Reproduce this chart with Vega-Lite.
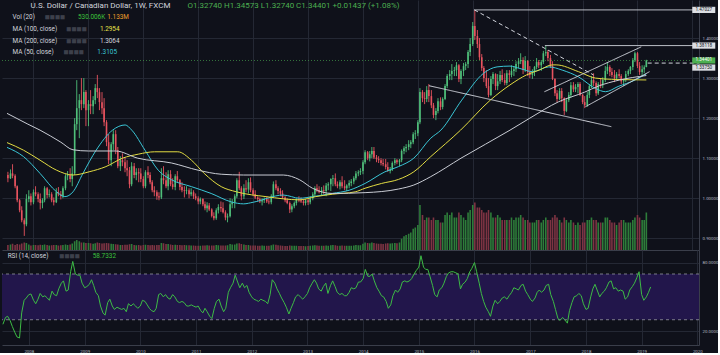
{
  "$schema": "https://vega.github.io/schema/vega-lite/v6.json",
  "background": "#0f111a",
  "padding": 0,
  "spacing": 0,
  "config": {
    "view": {"stroke": null},
    "font": "Roboto",
    "axis": {"labelFont": "Roboto", "labelFontSize": 4.4, "labelColor": "#b8bbc4", "domainColor": "#3a3e4a", "gridColor": "#242834", "ticks": false}
  },
  "datasets": {
    "k": [
      {"d":"2007-07-15","o":1.058,"h":1.066,"l":1.040,"c":1.050,"v":0.2,"r":26},
      {"d":"2007-08-01","o":1.050,"h":1.072,"l":1.048,"c":1.062,"v":0.22,"r":32},
      {"d":"2007-08-15","o":1.062,"h":1.085,"l":1.050,"c":1.056,"v":0.25,"r":33},
      {"d":"2007-09-01","o":1.056,"h":1.060,"l":1.025,"c":1.030,"v":0.2,"r":29},
      {"d":"2007-09-15","o":1.030,"h":1.032,"l":0.990,"c":0.995,"v":0.24,"r":24},
      {"d":"2007-10-01","o":0.995,"h":0.998,"l":0.965,"c":0.970,"v":0.22,"r":19},
      {"d":"2007-10-15","o":0.970,"h":0.980,"l":0.940,"c":0.945,"v":0.26,"r":15},
      {"d":"2007-11-01","o":0.945,"h":0.950,"l":0.906,"c":0.935,"v":0.3,"r":14},
      {"d":"2007-11-15","o":0.935,"h":1.010,"l":0.930,"c":0.998,"v":0.28,"r":36},
      {"d":"2007-12-01","o":0.998,"h":1.020,"l":0.990,"c":1.005,"v":0.22,"r":47},
      {"d":"2007-12-15","o":1.005,"h":1.012,"l":0.982,"c":0.990,"v":0.18,"r":49},
      {"d":"2008-01-01","o":0.990,"h":1.022,"l":0.985,"c":1.015,"v":0.2,"r":52},
      {"d":"2008-01-15","o":1.015,"h":1.030,"l":1.005,"c":1.010,"v":0.2,"r":52.5},
      {"d":"2008-02-01","o":1.010,"h":1.015,"l":0.990,"c":0.998,"v":0.19,"r":47},
      {"d":"2008-02-15","o":0.998,"h":1.012,"l":0.972,"c":0.988,"v":0.21,"r":44},
      {"d":"2008-03-01","o":0.988,"h":1.000,"l":0.975,"c":0.995,"v":0.2,"r":48},
      {"d":"2008-03-15","o":0.995,"h":1.030,"l":0.990,"c":1.025,"v":0.22,"r":53},
      {"d":"2008-04-01","o":1.025,"h":1.028,"l":1.000,"c":1.008,"v":0.2,"r":50},
      {"d":"2008-04-15","o":1.008,"h":1.022,"l":1.002,"c":1.010,"v":0.18,"r":51},
      {"d":"2008-05-01","o":1.010,"h":1.015,"l":0.990,"c":0.995,"v":0.19,"r":49},
      {"d":"2008-05-15","o":0.995,"h":1.002,"l":0.982,"c":0.990,"v":0.2,"r":47},
      {"d":"2008-06-01","o":0.990,"h":1.025,"l":0.988,"c":1.015,"v":0.2,"r":55},
      {"d":"2008-06-15","o":1.015,"h":1.028,"l":1.005,"c":1.010,"v":0.18,"r":52},
      {"d":"2008-07-01","o":1.010,"h":1.018,"l":0.997,"c":1.005,"v":0.19,"r":51},
      {"d":"2008-07-15","o":1.005,"h":1.030,"l":1.000,"c":1.025,"v":0.2,"r":57},
      {"d":"2008-08-01","o":1.025,"h":1.060,"l":1.020,"c":1.055,"v":0.22,"r":62},
      {"d":"2008-08-15","o":1.055,"h":1.068,"l":1.045,"c":1.058,"v":0.2,"r":64},
      {"d":"2008-09-01","o":1.058,"h":1.075,"l":1.040,"c":1.048,"v":0.22,"r":55},
      {"d":"2008-09-15","o":1.048,"h":1.080,"l":1.030,"c":1.062,"v":0.26,"r":56},
      {"d":"2008-10-01","o":1.062,"h":1.200,"l":1.058,"c":1.185,"v":0.35,"r":72},
      {"d":"2008-10-15","o":1.185,"h":1.295,"l":1.170,"c":1.225,"v":0.4,"r":81},
      {"d":"2008-11-01","o":1.225,"h":1.260,"l":1.150,"c":1.245,"v":0.35,"r":70},
      {"d":"2008-11-15","o":1.245,"h":1.300,"l":1.220,"c":1.235,"v":0.3,"r":69},
      {"d":"2008-12-01","o":1.235,"h":1.300,"l":1.225,"c":1.265,"v":0.3,"r":69},
      {"d":"2008-12-15","o":1.265,"h":1.270,"l":1.180,"c":1.220,"v":0.28,"r":62},
      {"d":"2009-01-01","o":1.220,"h":1.245,"l":1.180,"c":1.235,"v":0.28,"r":58},
      {"d":"2009-01-15","o":1.235,"h":1.270,"l":1.210,"c":1.230,"v":0.27,"r":59},
      {"d":"2009-02-01","o":1.230,"h":1.255,"l":1.210,"c":1.245,"v":0.25,"r":61},
      {"d":"2009-02-15","o":1.245,"h":1.285,"l":1.235,"c":1.275,"v":0.27,"r":65},
      {"d":"2009-03-01","o":1.275,"h":1.308,"l":1.250,"c":1.265,"v":0.3,"r":60},
      {"d":"2009-03-15","o":1.265,"h":1.275,"l":1.220,"c":1.240,"v":0.28,"r":54},
      {"d":"2009-04-01","o":1.240,"h":1.265,"l":1.210,"c":1.225,"v":0.26,"r":51},
      {"d":"2009-04-15","o":1.225,"h":1.250,"l":1.180,"c":1.190,"v":0.27,"r":42},
      {"d":"2009-05-01","o":1.190,"h":1.195,"l":1.130,"c":1.140,"v":0.28,"r":36},
      {"d":"2009-05-15","o":1.140,"h":1.160,"l":1.085,"c":1.095,"v":0.27,"r":34},
      {"d":"2009-06-01","o":1.095,"h":1.140,"l":1.080,"c":1.135,"v":0.25,"r":45},
      {"d":"2009-06-15","o":1.135,"h":1.170,"l":1.120,"c":1.160,"v":0.24,"r":48},
      {"d":"2009-07-01","o":1.160,"h":1.170,"l":1.110,"c":1.120,"v":0.23,"r":42},
      {"d":"2009-07-15","o":1.120,"h":1.128,"l":1.075,"c":1.080,"v":0.22,"r":39},
      {"d":"2009-08-01","o":1.080,"h":1.105,"l":1.068,"c":1.095,"v":0.2,"r":41},
      {"d":"2009-08-15","o":1.095,"h":1.112,"l":1.080,"c":1.090,"v":0.2,"r":40},
      {"d":"2009-09-01","o":1.090,"h":1.102,"l":1.065,"c":1.075,"v":0.21,"r":39},
      {"d":"2009-09-15","o":1.075,"h":1.095,"l":1.055,"c":1.070,"v":0.21,"r":40},
      {"d":"2009-10-01","o":1.070,"h":1.078,"l":1.025,"c":1.035,"v":0.23,"r":37},
      {"d":"2009-10-15","o":1.035,"h":1.090,"l":1.030,"c":1.080,"v":0.24,"r":44},
      {"d":"2009-11-01","o":1.080,"h":1.088,"l":1.050,"c":1.058,"v":0.2,"r":42},
      {"d":"2009-11-15","o":1.058,"h":1.075,"l":1.045,"c":1.065,"v":0.19,"r":44},
      {"d":"2009-12-01","o":1.065,"h":1.075,"l":1.040,"c":1.062,"v":0.2,"r":42},
      {"d":"2009-12-15","o":1.062,"h":1.075,"l":1.040,"c":1.048,"v":0.18,"r":40},
      {"d":"2010-01-01","o":1.048,"h":1.055,"l":1.025,"c":1.030,"v":0.2,"r":42},
      {"d":"2010-01-15","o":1.030,"h":1.070,"l":1.025,"c":1.065,"v":0.21,"r":47},
      {"d":"2010-02-01","o":1.065,"h":1.080,"l":1.050,"c":1.058,"v":0.2,"r":46},
      {"d":"2010-02-15","o":1.058,"h":1.065,"l":1.035,"c":1.040,"v":0.19,"r":43},
      {"d":"2010-03-01","o":1.040,"h":1.045,"l":1.015,"c":1.020,"v":0.2,"r":40},
      {"d":"2010-03-15","o":1.020,"h":1.030,"l":1.005,"c":1.015,"v":0.19,"r":38},
      {"d":"2010-04-01","o":1.015,"h":1.020,"l":0.996,"c":1.005,"v":0.2,"r":37},
      {"d":"2010-04-15","o":1.005,"h":1.015,"l":0.995,"c":1.002,"v":0.2,"r":40},
      {"d":"2010-05-01","o":1.002,"h":1.075,"l":0.998,"c":1.050,"v":0.28,"r":52},
      {"d":"2010-05-15","o":1.050,"h":1.080,"l":1.035,"c":1.045,"v":0.27,"r":53},
      {"d":"2010-06-01","o":1.045,"h":1.065,"l":1.025,"c":1.030,"v":0.24,"r":50},
      {"d":"2010-06-15","o":1.030,"h":1.070,"l":1.020,"c":1.060,"v":0.24,"r":52},
      {"d":"2010-07-01","o":1.060,"h":1.070,"l":1.030,"c":1.035,"v":0.22,"r":49},
      {"d":"2010-07-15","o":1.035,"h":1.050,"l":1.022,"c":1.028,"v":0.2,"r":48},
      {"d":"2010-08-01","o":1.028,"h":1.060,"l":1.020,"c":1.055,"v":0.21,"r":52},
      {"d":"2010-08-15","o":1.055,"h":1.068,"l":1.040,"c":1.045,"v":0.2,"r":50},
      {"d":"2010-09-01","o":1.045,"h":1.048,"l":1.020,"c":1.028,"v":0.2,"r":46},
      {"d":"2010-09-15","o":1.028,"h":1.040,"l":1.015,"c":1.020,"v":0.19,"r":45},
      {"d":"2010-10-01","o":1.020,"h":1.030,"l":1.002,"c":1.018,"v":0.2,"r":46},
      {"d":"2010-10-15","o":1.018,"h":1.030,"l":1.010,"c":1.020,"v":0.19,"r":45},
      {"d":"2010-11-01","o":1.020,"h":1.025,"l":1.000,"c":1.010,"v":0.19,"r":42},
      {"d":"2010-11-15","o":1.010,"h":1.025,"l":1.005,"c":1.015,"v":0.18,"r":42},
      {"d":"2010-12-01","o":1.015,"h":1.020,"l":0.998,"c":1.005,"v":0.18,"r":43},
      {"d":"2010-12-15","o":1.005,"h":1.012,"l":0.995,"c":1.000,"v":0.17,"r":42},
      {"d":"2011-01-01","o":1.000,"h":1.005,"l":0.985,"c":0.992,"v":0.17,"r":41},
      {"d":"2011-01-15","o":0.992,"h":1.002,"l":0.985,"c":0.998,"v":0.17,"r":42},
      {"d":"2011-02-01","o":0.998,"h":1.000,"l":0.980,"c":0.985,"v":0.18,"r":38},
      {"d":"2011-02-15","o":0.985,"h":0.992,"l":0.970,"c":0.975,"v":0.18,"r":36},
      {"d":"2011-03-01","o":0.975,"h":0.990,"l":0.965,"c":0.982,"v":0.19,"r":40},
      {"d":"2011-03-15","o":0.982,"h":0.988,"l":0.968,"c":0.972,"v":0.18,"r":37},
      {"d":"2011-04-01","o":0.972,"h":0.975,"l":0.952,"c":0.956,"v":0.18,"r":33},
      {"d":"2011-04-15","o":0.956,"h":0.965,"l":0.945,"c":0.950,"v":0.18,"r":31},
      {"d":"2011-05-01","o":0.950,"h":0.975,"l":0.946,"c":0.970,"v":0.2,"r":40},
      {"d":"2011-05-15","o":0.970,"h":0.985,"l":0.962,"c":0.978,"v":0.19,"r":46},
      {"d":"2011-06-01","o":0.978,"h":0.992,"l":0.966,"c":0.975,"v":0.18,"r":48},
      {"d":"2011-06-15","o":0.975,"h":0.990,"l":0.962,"c":0.965,"v":0.18,"r":42},
      {"d":"2011-07-01","o":0.965,"h":0.970,"l":0.945,"c":0.952,"v":0.18,"r":37},
      {"d":"2011-07-15","o":0.952,"h":0.962,"l":0.940,"c":0.955,"v":0.19,"r":40},
      {"d":"2011-08-01","o":0.955,"h":1.000,"l":0.952,"c":0.985,"v":0.24,"r":54},
      {"d":"2011-08-15","o":0.985,"h":0.998,"l":0.975,"c":0.990,"v":0.22,"r":58},
      {"d":"2011-09-01","o":0.990,"h":1.010,"l":0.975,"c":1.005,"v":0.22,"r":62},
      {"d":"2011-09-15","o":1.005,"h":1.050,"l":1.000,"c":1.045,"v":0.26,"r":69},
      {"d":"2011-10-01","o":1.045,"h":1.066,"l":1.020,"c":1.025,"v":0.27,"r":63},
      {"d":"2011-10-15","o":1.025,"h":1.030,"l":0.995,"c":1.005,"v":0.24,"r":58},
      {"d":"2011-11-01","o":1.005,"h":1.035,"l":0.998,"c":1.025,"v":0.22,"r":62},
      {"d":"2011-11-15","o":1.025,"h":1.045,"l":1.015,"c":1.022,"v":0.2,"r":58},
      {"d":"2011-12-01","o":1.022,"h":1.050,"l":1.012,"c":1.040,"v":0.2,"r":60},
      {"d":"2011-12-15","o":1.040,"h":1.052,"l":1.015,"c":1.020,"v":0.18,"r":54},
      {"d":"2012-01-01","o":1.020,"h":1.025,"l":1.005,"c":1.010,"v":0.18,"r":50},
      {"d":"2012-01-15","o":1.010,"h":1.020,"l":0.998,"c":1.002,"v":0.18,"r":48},
      {"d":"2012-02-01","o":1.002,"h":1.005,"l":0.992,"c":0.998,"v":0.17,"r":47},
      {"d":"2012-02-15","o":0.998,"h":1.002,"l":0.988,"c":0.992,"v":0.17,"r":46},
      {"d":"2012-03-01","o":0.992,"h":1.000,"l":0.982,"c":0.995,"v":0.18,"r":48},
      {"d":"2012-03-15","o":0.995,"h":1.002,"l":0.988,"c":0.998,"v":0.17,"r":47},
      {"d":"2012-04-01","o":0.998,"h":1.005,"l":0.988,"c":0.992,"v":0.17,"r":46},
      {"d":"2012-04-15","o":0.992,"h":1.000,"l":0.985,"c":0.990,"v":0.17,"r":44},
      {"d":"2012-05-01","o":0.990,"h":1.010,"l":0.985,"c":1.005,"v":0.19,"r":52},
      {"d":"2012-05-15","o":1.005,"h":1.042,"l":1.002,"c":1.035,"v":0.22,"r":65},
      {"d":"2012-06-01","o":1.035,"h":1.045,"l":1.020,"c":1.025,"v":0.21,"r":62},
      {"d":"2012-06-15","o":1.025,"h":1.030,"l":1.010,"c":1.018,"v":0.19,"r":57},
      {"d":"2012-07-01","o":1.018,"h":1.025,"l":1.005,"c":1.012,"v":0.18,"r":53},
      {"d":"2012-07-15","o":1.012,"h":1.020,"l":0.998,"c":1.002,"v":0.17,"r":49},
      {"d":"2012-08-01","o":1.002,"h":1.005,"l":0.990,"c":0.995,"v":0.16,"r":45},
      {"d":"2012-08-15","o":0.995,"h":1.000,"l":0.985,"c":0.988,"v":0.16,"r":41},
      {"d":"2012-09-01","o":0.988,"h":0.992,"l":0.963,"c":0.972,"v":0.18,"r":35},
      {"d":"2012-09-15","o":0.972,"h":0.985,"l":0.965,"c":0.980,"v":0.17,"r":40},
      {"d":"2012-10-01","o":0.980,"h":0.992,"l":0.975,"c":0.988,"v":0.17,"r":45},
      {"d":"2012-10-15","o":0.988,"h":1.000,"l":0.982,"c":0.998,"v":0.17,"r":50},
      {"d":"2012-11-01","o":0.998,"h":1.005,"l":0.990,"c":0.995,"v":0.16,"r":52},
      {"d":"2012-11-15","o":0.995,"h":1.002,"l":0.988,"c":0.992,"v":0.16,"r":50},
      {"d":"2012-12-01","o":0.992,"h":0.998,"l":0.982,"c":0.988,"v":0.16,"r":48},
      {"d":"2012-12-15","o":0.988,"h":0.998,"l":0.982,"c":0.995,"v":0.15,"r":50},
      {"d":"2013-01-01","o":0.995,"h":1.000,"l":0.983,"c":0.990,"v":0.16,"r":53},
      {"d":"2013-01-15","o":0.990,"h":1.005,"l":0.985,"c":1.000,"v":0.17,"r":58},
      {"d":"2013-02-01","o":1.000,"h":1.015,"l":0.995,"c":1.010,"v":0.18,"r":62},
      {"d":"2013-02-15","o":1.010,"h":1.030,"l":1.005,"c":1.025,"v":0.19,"r":65},
      {"d":"2013-03-01","o":1.025,"h":1.035,"l":1.015,"c":1.020,"v":0.18,"r":62},
      {"d":"2013-03-15","o":1.020,"h":1.030,"l":1.012,"c":1.015,"v":0.17,"r":57},
      {"d":"2013-04-01","o":1.015,"h":1.028,"l":1.008,"c":1.020,"v":0.17,"r":55},
      {"d":"2013-04-15","o":1.020,"h":1.032,"l":1.010,"c":1.018,"v":0.17,"r":59},
      {"d":"2013-05-01","o":1.018,"h":1.038,"l":1.005,"c":1.032,"v":0.18,"r":62},
      {"d":"2013-05-15","o":1.032,"h":1.040,"l":1.020,"c":1.035,"v":0.17,"r":53},
      {"d":"2013-06-01","o":1.035,"h":1.050,"l":1.018,"c":1.048,"v":0.19,"r":60},
      {"d":"2013-06-15","o":1.048,"h":1.058,"l":1.030,"c":1.050,"v":0.2,"r":64},
      {"d":"2013-07-01","o":1.050,"h":1.062,"l":1.030,"c":1.035,"v":0.19,"r":59},
      {"d":"2013-07-15","o":1.035,"h":1.042,"l":1.025,"c":1.030,"v":0.17,"r":54},
      {"d":"2013-08-01","o":1.030,"h":1.045,"l":1.022,"c":1.040,"v":0.17,"r":52},
      {"d":"2013-08-15","o":1.040,"h":1.055,"l":1.025,"c":1.030,"v":0.18,"r":53},
      {"d":"2013-09-01","o":1.030,"h":1.045,"l":1.020,"c":1.025,"v":0.17,"r":51},
      {"d":"2013-09-15","o":1.025,"h":1.035,"l":1.018,"c":1.032,"v":0.17,"r":51},
      {"d":"2013-10-01","o":1.032,"h":1.045,"l":1.025,"c":1.038,"v":0.17,"r":54},
      {"d":"2013-10-15","o":1.038,"h":1.048,"l":1.030,"c":1.042,"v":0.17,"r":58},
      {"d":"2013-11-01","o":1.042,"h":1.055,"l":1.035,"c":1.050,"v":0.18,"r":57},
      {"d":"2013-11-15","o":1.050,"h":1.068,"l":1.045,"c":1.062,"v":0.2,"r":58},
      {"d":"2013-12-01","o":1.062,"h":1.070,"l":1.055,"c":1.065,"v":0.19,"r":63},
      {"d":"2013-12-15","o":1.065,"h":1.075,"l":1.058,"c":1.068,"v":0.19,"r":63},
      {"d":"2014-01-01","o":1.068,"h":1.095,"l":1.060,"c":1.090,"v":0.25,"r":66},
      {"d":"2014-01-15","o":1.090,"h":1.120,"l":1.085,"c":1.115,"v":0.3,"r":74},
      {"d":"2014-02-01","o":1.115,"h":1.118,"l":1.095,"c":1.100,"v":0.28,"r":68},
      {"d":"2014-02-15","o":1.100,"h":1.118,"l":1.092,"c":1.110,"v":0.27,"r":68},
      {"d":"2014-03-01","o":1.110,"h":1.128,"l":1.100,"c":1.118,"v":0.3,"r":70},
      {"d":"2014-03-15","o":1.118,"h":1.128,"l":1.098,"c":1.102,"v":0.28,"r":64},
      {"d":"2014-04-01","o":1.102,"h":1.108,"l":1.090,"c":1.098,"v":0.26,"r":58},
      {"d":"2014-04-15","o":1.098,"h":1.105,"l":1.088,"c":1.095,"v":0.25,"r":55},
      {"d":"2014-05-01","o":1.095,"h":1.100,"l":1.082,"c":1.088,"v":0.25,"r":51},
      {"d":"2014-05-15","o":1.088,"h":1.098,"l":1.080,"c":1.085,"v":0.24,"r":50},
      {"d":"2014-06-01","o":1.085,"h":1.098,"l":1.072,"c":1.078,"v":0.26,"r":46},
      {"d":"2014-06-15","o":1.078,"h":1.090,"l":1.066,"c":1.068,"v":0.27,"r":40},
      {"d":"2014-07-01","o":1.068,"h":1.078,"l":1.062,"c":1.072,"v":0.26,"r":43},
      {"d":"2014-07-15","o":1.072,"h":1.092,"l":1.068,"c":1.088,"v":0.27,"r":51},
      {"d":"2014-08-01","o":1.088,"h":1.100,"l":1.082,"c":1.095,"v":0.28,"r":56},
      {"d":"2014-08-15","o":1.095,"h":1.098,"l":1.085,"c":1.090,"v":0.27,"r":54},
      {"d":"2014-09-01","o":1.090,"h":1.098,"l":1.080,"c":1.095,"v":0.3,"r":57},
      {"d":"2014-09-15","o":1.095,"h":1.122,"l":1.090,"c":1.118,"v":0.45,"r":63},
      {"d":"2014-10-01","o":1.118,"h":1.130,"l":1.110,"c":1.125,"v":0.55,"r":64},
      {"d":"2014-10-15","o":1.125,"h":1.135,"l":1.115,"c":1.128,"v":0.6,"r":63},
      {"d":"2014-11-01","o":1.128,"h":1.145,"l":1.120,"c":1.135,"v":0.65,"r":64},
      {"d":"2014-11-15","o":1.135,"h":1.145,"l":1.125,"c":1.140,"v":0.7,"r":66},
      {"d":"2014-12-01","o":1.140,"h":1.165,"l":1.135,"c":1.160,"v":0.85,"r":70},
      {"d":"2014-12-15","o":1.160,"h":1.170,"l":1.148,"c":1.162,"v":0.9,"r":73},
      {"d":"2015-01-01","o":1.162,"h":1.195,"l":1.155,"c":1.190,"v":1.0,"r":76},
      {"d":"2015-01-15","o":1.190,"h":1.275,"l":1.185,"c":1.265,"v":1.8,"r":86},
      {"d":"2015-02-01","o":1.265,"h":1.270,"l":1.240,"c":1.250,"v":1.4,"r":76},
      {"d":"2015-02-15","o":1.250,"h":1.265,"l":1.235,"c":1.248,"v":1.2,"r":74},
      {"d":"2015-03-01","o":1.248,"h":1.280,"l":1.240,"c":1.270,"v":1.3,"r":74},
      {"d":"2015-03-15","o":1.270,"h":1.285,"l":1.240,"c":1.255,"v":1.3,"r":68},
      {"d":"2015-04-01","o":1.255,"h":1.270,"l":1.225,"c":1.232,"v":1.2,"r":60},
      {"d":"2015-04-15","o":1.232,"h":1.238,"l":1.200,"c":1.208,"v":1.3,"r":52},
      {"d":"2015-05-01","o":1.208,"h":1.225,"l":1.195,"c":1.218,"v":1.2,"r":50},
      {"d":"2015-05-15","o":1.218,"h":1.250,"l":1.212,"c":1.242,"v":1.2,"r":56},
      {"d":"2015-06-01","o":1.242,"h":1.252,"l":1.220,"c":1.228,"v":1.1,"r":58},
      {"d":"2015-06-15","o":1.228,"h":1.252,"l":1.222,"c":1.248,"v":1.1,"r":62},
      {"d":"2015-07-01","o":1.248,"h":1.285,"l":1.245,"c":1.280,"v":1.4,"r":68},
      {"d":"2015-07-15","o":1.280,"h":1.310,"l":1.275,"c":1.305,"v":1.5,"r":71},
      {"d":"2015-08-01","o":1.305,"h":1.320,"l":1.295,"c":1.310,"v":1.4,"r":72},
      {"d":"2015-08-15","o":1.310,"h":1.335,"l":1.295,"c":1.318,"v":1.5,"r":72},
      {"d":"2015-09-01","o":1.318,"h":1.328,"l":1.305,"c":1.320,"v":1.3,"r":71},
      {"d":"2015-09-15","o":1.320,"h":1.340,"l":1.305,"c":1.332,"v":1.3,"r":70},
      {"d":"2015-10-01","o":1.332,"h":1.335,"l":1.290,"c":1.298,"v":1.5,"r":57},
      {"d":"2015-10-15","o":1.298,"h":1.322,"l":1.285,"c":1.318,"v":1.4,"r":61},
      {"d":"2015-11-01","o":1.318,"h":1.338,"l":1.305,"c":1.330,"v":1.3,"r":63},
      {"d":"2015-11-15","o":1.330,"h":1.340,"l":1.320,"c":1.335,"v":1.2,"r":66},
      {"d":"2015-12-01","o":1.335,"h":1.370,"l":1.325,"c":1.365,"v":1.5,"r":72},
      {"d":"2015-12-15","o":1.365,"h":1.400,"l":1.355,"c":1.385,"v":1.6,"r":75},
      {"d":"2016-01-01","o":1.385,"h":1.440,"l":1.380,"c":1.430,"v":1.8,"r":80},
      {"d":"2016-01-15","o":1.430,"h":1.470,"l":1.395,"c":1.405,"v":1.9,"r":72},
      {"d":"2016-02-01","o":1.405,"h":1.420,"l":1.375,"c":1.385,"v":1.7,"r":62},
      {"d":"2016-02-15","o":1.385,"h":1.400,"l":1.345,"c":1.352,"v":1.7,"r":53},
      {"d":"2016-03-01","o":1.352,"h":1.360,"l":1.318,"c":1.325,"v":1.6,"r":46},
      {"d":"2016-03-15","o":1.325,"h":1.330,"l":1.290,"c":1.300,"v":1.5,"r":41},
      {"d":"2016-04-01","o":1.300,"h":1.320,"l":1.275,"c":1.280,"v":1.5,"r":37},
      {"d":"2016-04-15","o":1.280,"h":1.300,"l":1.252,"c":1.258,"v":1.6,"r":33},
      {"d":"2016-05-01","o":1.258,"h":1.305,"l":1.255,"c":1.298,"v":1.5,"r":42},
      {"d":"2016-05-15","o":1.298,"h":1.315,"l":1.285,"c":1.310,"v":1.3,"r":47},
      {"d":"2016-06-01","o":1.310,"h":1.312,"l":1.270,"c":1.280,"v":1.3,"r":44},
      {"d":"2016-06-15","o":1.280,"h":1.310,"l":1.270,"c":1.292,"v":1.4,"r":46},
      {"d":"2016-07-01","o":1.292,"h":1.318,"l":1.285,"c":1.308,"v":1.3,"r":49},
      {"d":"2016-07-15","o":1.308,"h":1.322,"l":1.290,"c":1.295,"v":1.2,"r":50},
      {"d":"2016-08-01","o":1.295,"h":1.312,"l":1.282,"c":1.288,"v":1.2,"r":48},
      {"d":"2016-08-15","o":1.288,"h":1.320,"l":1.282,"c":1.312,"v":1.2,"r":51},
      {"d":"2016-09-01","o":1.312,"h":1.320,"l":1.290,"c":1.308,"v":1.2,"r":54},
      {"d":"2016-09-15","o":1.308,"h":1.332,"l":1.302,"c":1.318,"v":1.3,"r":58},
      {"d":"2016-10-01","o":1.318,"h":1.330,"l":1.305,"c":1.322,"v":1.2,"r":57},
      {"d":"2016-10-15","o":1.322,"h":1.342,"l":1.315,"c":1.335,"v":1.3,"r":56},
      {"d":"2016-11-01","o":1.335,"h":1.350,"l":1.325,"c":1.342,"v":1.3,"r":60},
      {"d":"2016-11-15","o":1.342,"h":1.362,"l":1.335,"c":1.345,"v":1.4,"r":61},
      {"d":"2016-12-01","o":1.345,"h":1.352,"l":1.310,"c":1.320,"v":1.3,"r":55},
      {"d":"2016-12-15","o":1.320,"h":1.355,"l":1.315,"c":1.343,"v":1.2,"r":52},
      {"d":"2017-01-01","o":1.343,"h":1.345,"l":1.305,"c":1.315,"v":1.2,"r":48},
      {"d":"2017-01-15","o":1.315,"h":1.330,"l":1.300,"c":1.308,"v":1.1,"r":46},
      {"d":"2017-02-01","o":1.308,"h":1.322,"l":1.298,"c":1.315,"v":1.1,"r":49},
      {"d":"2017-02-15","o":1.315,"h":1.330,"l":1.305,"c":1.328,"v":1.1,"r":54},
      {"d":"2017-03-01","o":1.328,"h":1.350,"l":1.322,"c":1.340,"v":1.2,"r":56},
      {"d":"2017-03-15","o":1.340,"h":1.345,"l":1.325,"c":1.332,"v":1.2,"r":54},
      {"d":"2017-04-01","o":1.332,"h":1.345,"l":1.318,"c":1.340,"v":1.1,"r":56},
      {"d":"2017-04-15","o":1.340,"h":1.368,"l":1.335,"c":1.362,"v":1.2,"r":60},
      {"d":"2017-05-01","o":1.362,"h":1.380,"l":1.355,"c":1.365,"v":1.3,"r":61},
      {"d":"2017-05-15","o":1.365,"h":1.370,"l":1.342,"c":1.350,"v":1.2,"r":52},
      {"d":"2017-06-01","o":1.350,"h":1.358,"l":1.325,"c":1.330,"v":1.2,"r":46},
      {"d":"2017-06-15","o":1.330,"h":1.342,"l":1.295,"c":1.298,"v":1.3,"r":39},
      {"d":"2017-07-01","o":1.298,"h":1.300,"l":1.255,"c":1.262,"v":1.4,"r":31},
      {"d":"2017-07-15","o":1.262,"h":1.270,"l":1.240,"c":1.248,"v":1.3,"r":29.5},
      {"d":"2017-08-01","o":1.248,"h":1.275,"l":1.245,"c":1.268,"v":1.2,"r":32},
      {"d":"2017-08-15","o":1.268,"h":1.275,"l":1.240,"c":1.250,"v":1.1,"r":30},
      {"d":"2017-09-01","o":1.250,"h":1.252,"l":1.208,"c":1.218,"v":1.3,"r":27},
      {"d":"2017-09-15","o":1.218,"h":1.248,"l":1.215,"c":1.245,"v":1.2,"r":38},
      {"d":"2017-10-01","o":1.245,"h":1.265,"l":1.240,"c":1.258,"v":1.1,"r":45},
      {"d":"2017-10-15","o":1.258,"h":1.290,"l":1.250,"c":1.282,"v":1.2,"r":50},
      {"d":"2017-11-01","o":1.282,"h":1.290,"l":1.265,"c":1.272,"v":1.1,"r":51},
      {"d":"2017-11-15","o":1.272,"h":1.285,"l":1.265,"c":1.278,"v":1.0,"r":53},
      {"d":"2017-12-01","o":1.278,"h":1.290,"l":1.262,"c":1.285,"v":1.1,"r":51},
      {"d":"2017-12-15","o":1.285,"h":1.290,"l":1.255,"c":1.258,"v":1.0,"r":44},
      {"d":"2018-01-01","o":1.258,"h":1.260,"l":1.235,"c":1.240,"v":1.1,"r":39},
      {"d":"2018-01-15","o":1.240,"h":1.255,"l":1.225,"c":1.232,"v":1.1,"r":40},
      {"d":"2018-02-01","o":1.232,"h":1.265,"l":1.228,"c":1.258,"v":1.2,"r":50},
      {"d":"2018-02-15","o":1.258,"h":1.285,"l":1.250,"c":1.280,"v":1.2,"r":57},
      {"d":"2018-03-01","o":1.280,"h":1.305,"l":1.275,"c":1.295,"v":1.3,"r":61},
      {"d":"2018-03-15","o":1.295,"h":1.312,"l":1.280,"c":1.288,"v":1.2,"r":56},
      {"d":"2018-04-01","o":1.288,"h":1.292,"l":1.255,"c":1.262,"v":1.2,"r":50},
      {"d":"2018-04-15","o":1.262,"h":1.290,"l":1.258,"c":1.285,"v":1.1,"r":53},
      {"d":"2018-05-01","o":1.285,"h":1.300,"l":1.275,"c":1.282,"v":1.1,"r":55},
      {"d":"2018-05-15","o":1.282,"h":1.302,"l":1.275,"c":1.295,"v":1.1,"r":58},
      {"d":"2018-06-01","o":1.295,"h":1.330,"l":1.290,"c":1.318,"v":1.3,"r":63},
      {"d":"2018-06-15","o":1.318,"h":1.338,"l":1.310,"c":1.328,"v":1.3,"r":64},
      {"d":"2018-07-01","o":1.328,"h":1.332,"l":1.305,"c":1.315,"v":1.2,"r":57},
      {"d":"2018-07-15","o":1.315,"h":1.325,"l":1.302,"c":1.308,"v":1.1,"r":58},
      {"d":"2018-08-01","o":1.308,"h":1.320,"l":1.290,"c":1.300,"v":1.1,"r":55},
      {"d":"2018-08-15","o":1.300,"h":1.315,"l":1.295,"c":1.310,"v":1.0,"r":56},
      {"d":"2018-09-01","o":1.310,"h":1.322,"l":1.300,"c":1.305,"v":1.1,"r":55},
      {"d":"2018-09-15","o":1.305,"h":1.310,"l":1.285,"c":1.292,"v":1.2,"r":48},
      {"d":"2018-10-01","o":1.292,"h":1.298,"l":1.280,"c":1.295,"v":1.2,"r":50},
      {"d":"2018-10-15","o":1.295,"h":1.318,"l":1.290,"c":1.310,"v":1.1,"r":56},
      {"d":"2018-11-01","o":1.310,"h":1.322,"l":1.305,"c":1.318,"v":1.1,"r":59},
      {"d":"2018-11-15","o":1.318,"h":1.330,"l":1.310,"c":1.328,"v":1.1,"r":62},
      {"d":"2018-12-01","o":1.328,"h":1.350,"l":1.320,"c":1.345,"v":1.2,"r":67},
      {"d":"2018-12-15","o":1.345,"h":1.366,"l":1.340,"c":1.362,"v":1.3,"r":72},
      {"d":"2019-01-01","o":1.362,"h":1.365,"l":1.325,"c":1.330,"v":1.4,"r":52},
      {"d":"2019-01-15","o":1.330,"h":1.340,"l":1.308,"c":1.315,"v":1.3,"r":47},
      {"d":"2019-02-01","o":1.315,"h":1.332,"l":1.305,"c":1.322,"v":1.2,"r":50},
      {"d":"2019-02-15","o":1.322,"h":1.332,"l":1.312,"c":1.327,"v":1.2,"r":54},
      {"d":"2019-03-01","o":1.3274,"h":1.3457,"l":1.3274,"c":1.3440,"v":1.5,"r":58.7}
    ],
    "ma": [
      {"d":"2007-07-09","m":"a","v":1.127},{"d":"2007-10-27","m":"a","v":1.104},{"d":"2008-02-14","m":"a","v":1.062},{"d":"2008-06-03","m":"a","v":1.016},{"d":"2008-07-28","m":"a","v":1.004},{"d":"2008-09-20","m":"a","v":1.016},{"d":"2008-11-25","m":"a","v":1.062},{"d":"2009-02-21","m":"a","v":1.12},{"d":"2009-06-10","m":"a","v":1.17},{"d":"2009-09-02","m":"a","v":1.183},{"d":"2009-10-16","m":"a","v":1.17},{"d":"2010-01-12","m":"a","v":1.12},{"d":"2010-04-10","m":"a","v":1.07},{"d":"2010-07-08","m":"a","v":1.046},{"d":"2010-11-17","m":"a","v":1.029},{"d":"2011-03-28","m":"a","v":1.012},{"d":"2011-08-08","m":"a","v":0.991},{"d":"2011-10-30","m":"a","v":0.986},{"d":"2012-01-01","m":"a","v":0.99},{"d":"2012-07-20","m":"a","v":1.008},{"d":"2012-11-06","m":"a","v":1.0},{"d":"2013-01-30","m":"a","v":1.004},{"d":"2013-06-10","m":"a","v":1.012},{"d":"2013-10-01","m":"a","v":1.02},{"d":"2014-01-15","m":"a","v":1.037},{"d":"2014-05-27","m":"a","v":1.066},{"d":"2014-08-25","m":"a","v":1.079},{"d":"2014-12-05","m":"a","v":1.10},{"d":"2015-03-28","m":"a","v":1.15},{"d":"2015-06-03","m":"a","v":1.17},{"d":"2015-10-20","m":"a","v":1.245},{"d":"2016-03-13","m":"a","v":1.312},{"d":"2016-06-11","m":"a","v":1.328},{"d":"2016-09-05","m":"a","v":1.33},{"d":"2016-11-10","m":"a","v":1.324},{"d":"2017-02-02","m":"a","v":1.316},{"d":"2017-05-22","m":"a","v":1.328},{"d":"2017-08-18","m":"a","v":1.32},{"d":"2017-12-05","m":"a","v":1.303},{"d":"2018-03-28","m":"a","v":1.274},{"d":"2018-06-03","m":"a","v":1.266},{"d":"2018-08-25","m":"a","v":1.279},{"d":"2018-12-15","m":"a","v":1.295},{"d":"2019-03-01","m":"a","v":1.3105},
      {"d":"2007-07-09","m":"b","v":1.139},{"d":"2007-10-27","m":"b","v":1.12},{"d":"2008-02-14","m":"b","v":1.095},{"d":"2008-06-03","m":"b","v":1.07},{"d":"2008-09-20","m":"b","v":1.058},{"d":"2009-01-05","m":"b","v":1.066},{"d":"2009-04-27","m":"b","v":1.079},{"d":"2009-08-15","m":"b","v":1.10},{"d":"2009-11-28","m":"b","v":1.11},{"d":"2010-03-17","m":"b","v":1.116},{"d":"2010-08-18","m":"b","v":1.116},{"d":"2010-11-17","m":"b","v":1.095},{"d":"2011-02-10","m":"b","v":1.062},{"d":"2011-06-03","m":"b","v":1.029},{"d":"2011-09-13","m":"b","v":1.016},{"d":"2012-03-28","m":"b","v":1.004},{"d":"2012-11-06","m":"b","v":0.996},{"d":"2013-02-20","m":"b","v":1.004},{"d":"2013-06-10","m":"b","v":1.01},{"d":"2013-11-10","m":"b","v":1.016},{"d":"2014-01-15","m":"b","v":1.025},{"d":"2014-05-05","m":"b","v":1.037},{"d":"2014-08-25","m":"b","v":1.047},{"d":"2014-12-05","m":"b","v":1.066},{"d":"2015-03-28","m":"b","v":1.104},{"d":"2015-10-12","m":"b","v":1.17},{"d":"2016-04-27","m":"b","v":1.245},{"d":"2016-09-05","m":"b","v":1.283},{"d":"2016-12-24","m":"b","v":1.308},{"d":"2017-03-18","m":"b","v":1.32},{"d":"2017-06-14","m":"b","v":1.333},{"d":"2017-07-09","m":"b","v":1.333},{"d":"2017-12-05","m":"b","v":1.316},{"d":"2018-03-28","m":"b","v":1.30},{"d":"2018-07-13","m":"b","v":1.297},{"d":"2019-03-01","m":"b","v":1.2954},
      {"d":"2007-07-09","m":"w","v":1.212},{"d":"2007-11-25","m":"w","v":1.185},{"d":"2008-02-14","m":"w","v":1.17},{"d":"2008-07-01","m":"w","v":1.14},{"d":"2008-09-20","m":"w","v":1.121},{"d":"2009-01-01","m":"w","v":1.118},{"d":"2009-07-01","m":"w","v":1.118},{"d":"2009-11-25","m":"w","v":1.10},{"d":"2010-07-08","m":"w","v":1.088},{"d":"2011-01-01","m":"w","v":1.07},{"d":"2011-06-03","m":"w","v":1.06},{"d":"2011-10-30","m":"w","v":1.058},{"d":"2012-07-20","m":"w","v":1.058},{"d":"2012-11-06","m":"w","v":1.046},{"d":"2013-01-30","m":"w","v":1.025},{"d":"2013-06-10","m":"w","v":1.012},{"d":"2014-01-15","m":"w","v":1.014},{"d":"2014-08-25","m":"w","v":1.023},{"d":"2014-12-05","m":"w","v":1.033},{"d":"2015-03-28","m":"w","v":1.054},{"d":"2015-10-15","m":"w","v":1.10},{"d":"2016-09-05","m":"w","v":1.17},{"d":"2017-01-15","m":"w","v":1.20},{"d":"2017-07-26","m":"w","v":1.241},{"d":"2018-01-15","m":"w","v":1.265},{"d":"2018-04-16","m":"w","v":1.28},{"d":"2018-09-01","m":"w","v":1.295},{"d":"2019-03-01","m":"w","v":1.3064}
    ],
    "tl": [
      {"x1":"2016-01-12","x2":"2020-06-01","y1":1.47027,"y2":1.47027,"k":"s"},
      {"x1":"2016-01-12","x2":"2018-03-14","y1":1.4703,"y2":1.308,"k":"d"},
      {"x1":"2017-04-25","x2":"2020-06-01","y1":1.38118,"y2":1.38118,"k":"s"},
      {"x1":"2019-03-10","x2":"2020-06-01","y1":1.3375,"y2":1.3375,"k":"d"},
      {"x1":"2015-03-16","x2":"2018-07-11","y1":1.281,"y2":1.1787,"k":"s"},
      {"x1":"2017-04-22","x2":"2019-01-26","y1":1.266,"y2":1.378,"k":"s"},
      {"x1":"2018-01-20","x2":"2019-03-22","y1":1.2286,"y2":1.316,"k":"s"}
    ],
    "ttl": [
      {"d":"2007-12-13","p":1.4808,"t":"U.S. Dollar / Canadian Dollar, 1W, FXCM","k":"w"},
      {"d":"2010-10-21","p":1.4808,"t":"O1.32740 H1.34573 L1.32740 C1.34401 +0.01437 (+1.08%)","k":"g"}
    ],
    "leg": [
      {"d":"2007-08-15","p":1.4518,"t":"Vol (20)","k":"w"},
      {"d":"2008-03-14","p":1.4518,"t":"■■■■","k":"i"},
      {"d":"2008-10-23","p":1.4518,"t":"530.006K","k":"g"},
      {"d":"2009-05-06","p":1.4518,"t":"1.133M","k":"o"},
      {"d":"2007-08-15","p":1.4226,"t":"MA (100, close)","k":"w"},
      {"d":"2008-08-05","p":1.4226,"t":"■■■■","k":"i"},
      {"d":"2009-03-18","p":1.4226,"t":"1.2954","k":"y"},
      {"d":"2007-08-15","p":1.3934,"t":"MA (200, close)","k":"w"},
      {"d":"2008-08-05","p":1.3934,"t":"■■■■","k":"i"},
      {"d":"2009-03-18","p":1.3934,"t":"1.3064","k":"w"},
      {"d":"2007-08-15","p":1.3644,"t":"MA (50, close)","k":"w"},
      {"d":"2008-07-17","p":1.3644,"t":"■■■■","k":"i"},
      {"d":"2009-03-01","p":1.3644,"t":"1.3105","k":"c"}
    ],
    "rh": [
      {"d":"2007-08-15","r":85.5,"t":"RSI (14, close)","k":"w"},
      {"d":"2008-07-17","r":85.5,"t":"■■■■","k":"i"},
      {"d":"2009-02-23","r":85.5,"t":"58.7332","k":"g"}
    ],
    "lv": [
      {"p":1.47027,"t":"1.47027","k":"w"},
      {"p":1.38118,"t":"1.38118","k":"w"},
      {"p":1.34401,"t":"1.34401","k":"g"},
      {"p":1.3375,"t":"1.33750","k":"w2"}
    ],
    "band": [{"lo":30,"hi":70}]
  },
  "vconcat": [
    {
      "width": 697,
      "height": 250,
      "layer": [
        {
          "data": {"name": "k"},
          "mark": {"type": "bar", "width": 1.6},
          "encoding": {
            "x": {"field": "d", "type": "temporal", "scale": {"domain": [{"year":2007,"month":7,"date":9},{"year":2020,"month":1,"date":12}]},
                  "axis": {"orient": "bottom", "labels": false, "grid": true, "title": null,
                           "values": [{"year":2008,"month":1,"date":1},{"year":2009,"month":1,"date":1},{"year":2010,"month":1,"date":1},{"year":2011,"month":1,"date":1},{"year":2012,"month":1,"date":1},{"year":2013,"month":1,"date":1},{"year":2014,"month":1,"date":1},{"year":2015,"month":1,"date":1},{"year":2016,"month":1,"date":1},{"year":2017,"month":1,"date":1},{"year":2018,"month":1,"date":1},{"year":2019,"month":1,"date":1},{"year":2020,"month":1,"date":1}]}},
            "y": {"field": "v", "type": "quantitative", "scale": {"domain": [0, 10], "nice": false}, "axis": null},
            "color": {"condition": {"test": "datum.c >= datum.o", "value": "#2e7d3a"}, "value": "#7e3443"}
          }
        },
        {
          "layer": [
            {
              "data": {"name": "k"},
              "mark": {"type": "rule", "strokeWidth": 0.9},
              "encoding": {
                "x": {"field": "d", "type": "temporal"},
                "y": {"field": "l", "type": "quantitative", "scale": {"domain": [0.8708, 1.495], "nice": false, "zero": false},
                      "axis": {"orient": "right", "grid": true, "format": ".5f", "labelPadding": 3, "title": null,
                               "values": [0.9, 0.95, 1.0, 1.05, 1.1, 1.15, 1.2, 1.25, 1.3, 1.35, 1.4, 1.45]}},
                "y2": {"field": "h"},
                "color": {"condition": {"test": "datum.c >= datum.o", "value": "#4fbf7a"}, "value": "#e8535f"}
              }
            },
            {
              "data": {"name": "k"},
              "mark": {"type": "bar", "width": 1.6},
              "encoding": {
                "x": {"field": "d", "type": "temporal"},
                "y": {"field": "o", "type": "quantitative"},
                "y2": {"field": "c"},
                "color": {"condition": {"test": "datum.c >= datum.o", "value": "#4fbf7a"}, "value": "#e8535f"}
              }
            },
            {
              "data": {"name": "ma"},
              "mark": {"type": "line", "strokeWidth": 1, "interpolate": "monotone"},
              "encoding": {
                "x": {"field": "d", "type": "temporal"},
                "y": {"field": "v", "type": "quantitative"},
                "color": {"field": "m", "type": "nominal", "scale": {"domain": ["a", "b", "w"], "range": ["#3ac6d6", "#e2dc42", "#c9ccd4"]}, "legend": null}
              }
            },
            {
              "data": {"name": "tl"},
              "mark": {"type": "rule", "strokeWidth": 1, "color": "#d1d4dc", "clip": true},
              "encoding": {
                "x": {"field": "x1", "type": "temporal"},
                "x2": {"field": "x2"},
                "y": {"field": "y1", "type": "quantitative"},
                "y2": {"field": "y2"},
                "strokeDash": {"field": "k", "type": "nominal", "scale": {"domain": ["s", "d"], "range": [[1, 0], [4, 3]]}, "legend": null}
              }
            },
            {
              "data": {"values": [{"p": 1.34401}]},
              "mark": {"type": "rule", "strokeWidth": 0.8, "color": "#4caf50", "strokeDash": [1, 2], "opacity": 0.8},
              "encoding": {"y": {"field": "p", "type": "quantitative"}}
            },
            {
              "data": {"name": "ttl"},
              "mark": {"type": "text", "align": "left", "baseline": "middle", "fontSize": 8, "font": "Roboto"},
              "encoding": {
                "x": {"field": "d", "type": "temporal"},
                "y": {"field": "p", "type": "quantitative"},
                "text": {"field": "t"},
                "color": {"condition": {"test": "datum.k === 'g'", "value": "#4caf50"}, "value": "#d1d4dc"}
              }
            },
            {
              "data": {"name": "leg"},
              "mark": {"type": "text", "align": "left", "baseline": "middle", "fontSize": 6.4, "font": "Roboto"},
              "encoding": {
                "x": {"field": "d", "type": "temporal"},
                "y": {"field": "p", "type": "quantitative"},
                "text": {"field": "t"},
                "size": {"condition": {"test": "datum.k === 'i'", "value": 8.5}, "value": 6.4},
                "color": {"condition": [
                  {"test": "datum.k === 'g'", "value": "#3cc23c"},
                  {"test": "datum.k === 'o'", "value": "#f0a02c"},
                  {"test": "datum.k === 'y'", "value": "#e8e24a"},
                  {"test": "datum.k === 'c'", "value": "#3ac6d6"},
                  {"test": "datum.k === 'i'", "value": "#3d404b"}
                ], "value": "#d1d4dc"}
              }
            },
            {
              "data": {"name": "lv"},
              "transform": [{"filter": "datum.k !== 'w2'"}],
              "layer": [
                {
                  "mark": {"type": "point", "shape": "M-1,-0.27H1V0.27H-1Z", "size": 529, "filled": true, "opacity": 1, "strokeWidth": 0},
                  "encoding": {
                    "x": {"datum": {"year": 2020, "month": 3, "date": 17}, "type": "temporal"},
                    "y": {"field": "p", "type": "quantitative"},
                    "color": {"condition": {"test": "datum.k === 'g'", "value": "#4caf50"}, "value": "#dcdee3"}
                  }
                },
                {
                  "mark": {"type": "text", "align": "center", "baseline": "middle", "fontSize": 4.6, "font": "Roboto"},
                  "encoding": {
                    "x": {"datum": {"year": 2020, "month": 3, "date": 17}, "type": "temporal"},
                    "y": {"field": "p", "type": "quantitative"},
                    "text": {"field": "t"},
                    "color": {"condition": {"test": "datum.k === 'g'", "value": "#ffffff"}, "value": "#131722"}
                  }
                }
              ]
            },
            {
              "data": {"name": "lv"},
              "transform": [{"filter": "datum.k === 'w2'"}],
              "layer": [
                {
                  "mark": {"type": "point", "shape": "M-1,-0.27H1V0.27H-1Z", "size": 529, "filled": true, "opacity": 1, "strokeWidth": 0, "yOffset": 4.5, "color": "#dcdee3"},
                  "encoding": {
                    "x": {"datum": {"year": 2020, "month": 3, "date": 17}, "type": "temporal"},
                    "y": {"field": "p", "type": "quantitative"}
                  }
                },
                {
                  "mark": {"type": "text", "align": "center", "baseline": "middle", "fontSize": 4.6, "font": "Roboto", "yOffset": 4.5, "color": "#131722"},
                  "encoding": {
                    "x": {"datum": {"year": 2020, "month": 3, "date": 17}, "type": "temporal"},
                    "y": {"field": "p", "type": "quantitative"},
                    "text": {"field": "t"}
                  }
                }
              ]
            }
          ]
        }
      ],
      "resolve": {"scale": {"y": "independent"}}
    },
    {
      "width": 697,
      "height": 95,
      "layer": [
        {
          "data": {"name": "band"},
          "mark": {"type": "rect", "color": "#22164b"},
          "encoding": {
            "y": {"field": "lo", "type": "quantitative", "scale": {"domain": [7.9, 91], "nice": false, "zero": false},
                  "axis": {"orient": "right", "grid": true, "format": ".4f", "labelPadding": 3, "title": null, "values": [20, 40, 60, 80]}},
            "y2": {"field": "hi"}
          }
        },
        {
          "data": {"name": "band"},
          "mark": {"type": "rule", "strokeDash": [3, 3], "color": "#9598a1", "strokeWidth": 0.8},
          "encoding": {"y": {"field": "lo", "type": "quantitative"}}
        },
        {
          "data": {"name": "band"},
          "mark": {"type": "rule", "strokeDash": [3, 3], "color": "#9598a1", "strokeWidth": 0.8},
          "encoding": {"y": {"field": "hi", "type": "quantitative"}}
        },
        {
          "data": {"name": "k"},
          "mark": {"type": "line", "color": "#3dbb45", "strokeWidth": 1},
          "encoding": {
            "x": {"field": "d", "type": "temporal", "scale": {"domain": [{"year":2007,"month":7,"date":9},{"year":2020,"month":1,"date":12}]},
                  "axis": {"orient": "bottom", "grid": true, "format": "%Y", "labelPadding": 4.5, "labelFlush": false, "title": null,
                           "values": [{"year":2008,"month":1,"date":1},{"year":2009,"month":1,"date":1},{"year":2010,"month":1,"date":1},{"year":2011,"month":1,"date":1},{"year":2012,"month":1,"date":1},{"year":2013,"month":1,"date":1},{"year":2014,"month":1,"date":1},{"year":2015,"month":1,"date":1},{"year":2016,"month":1,"date":1},{"year":2017,"month":1,"date":1},{"year":2018,"month":1,"date":1},{"year":2019,"month":1,"date":1},{"year":2020,"month":1,"date":1}]}},
            "y": {"field": "r", "type": "quantitative"}
          }
        },
        {
          "data": {"name": "rh"},
          "mark": {"type": "text", "align": "left", "baseline": "middle", "fontSize": 6.4, "font": "Roboto"},
          "encoding": {
            "x": {"field": "d", "type": "temporal"},
            "y": {"field": "r", "type": "quantitative"},
            "text": {"field": "t"},
            "size": {"condition": {"test": "datum.k === 'i'", "value": 8.5}, "value": 6.4},
            "color": {"condition": [
              {"test": "datum.k === 'g'", "value": "#3cc23c"},
              {"test": "datum.k === 'i'", "value": "#3d404b"}
            ], "value": "#d1d4dc"}
          }
        }
      ]
    }
  ]
}
